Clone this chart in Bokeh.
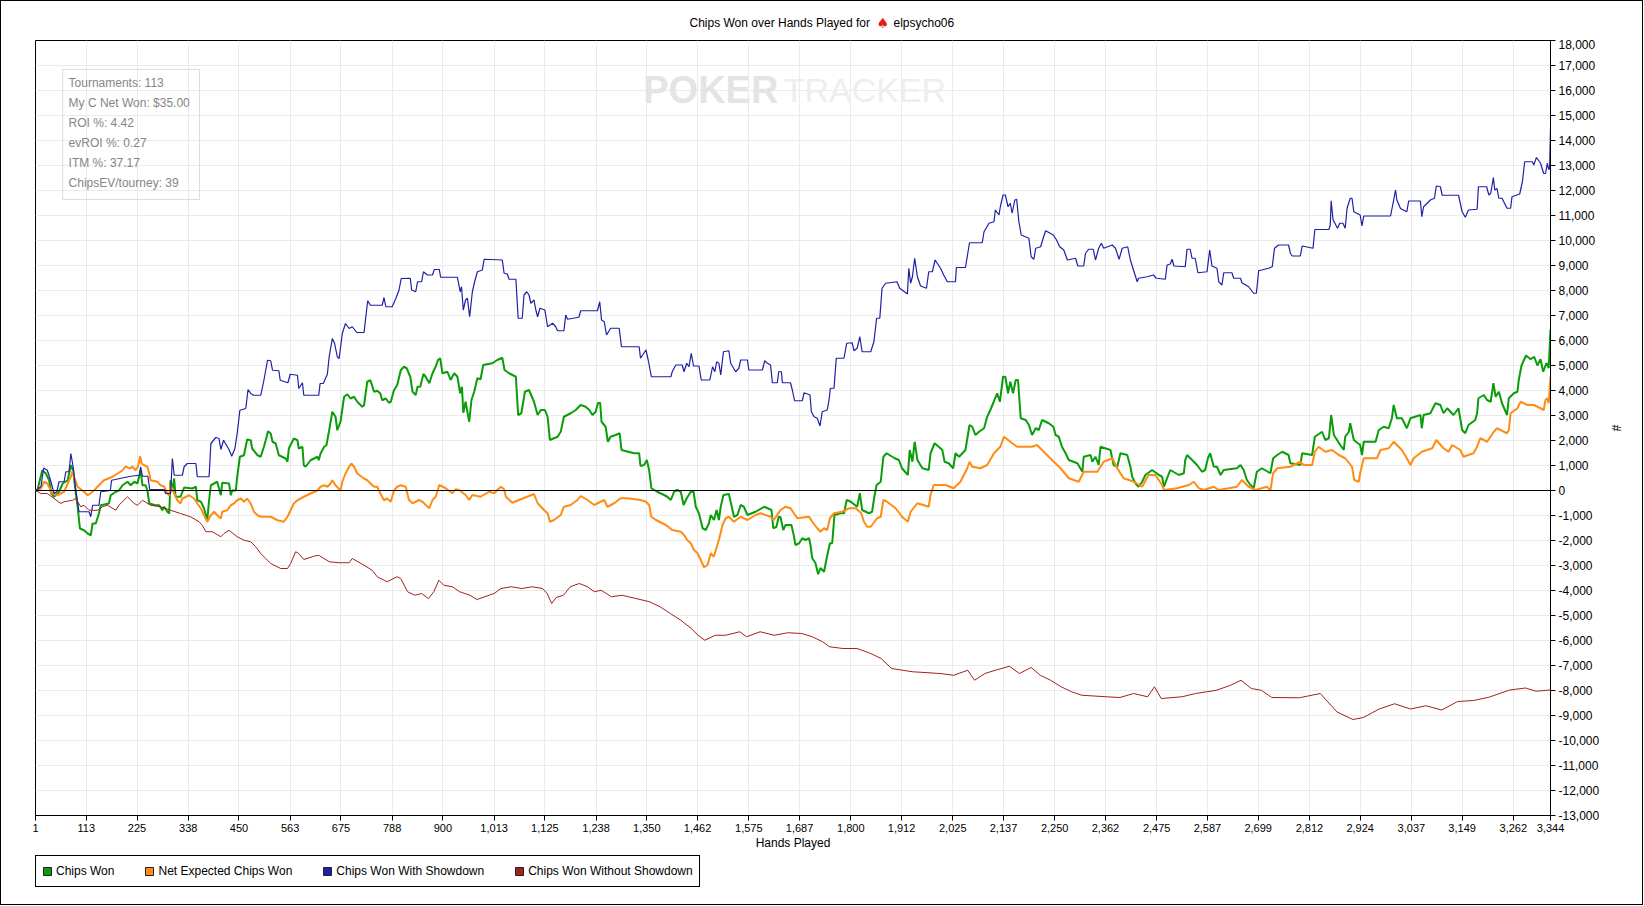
import glob
from bokeh.plotting import figure
from bokeh.layouts import column
from bokeh.models import (Range1d, FixedTicker, NumeralTickFormatter, Span, Label,
                          BoxAnnotation, Legend, LegendItem, ColumnDataSource, CDSView,
                          IndexFilter)
from bokeh.embed import file_html
from bokeh.resources import INLINE

# ---------------- data ----------------
x_ticks = [1, 113, 225, 338, 450, 563, 675, 788, 900, 1013, 1125, 1238, 1350, 1462, 1575,
           1687, 1800, 1912, 2025, 2137, 2250, 2362, 2475, 2587, 2699, 2812, 2924, 3037,
           3149, 3262, 3344]
y_ticks = list(range(-13000, 18001, 1000))

series_names = ["Chips Won", "Net Expected Chips Won", "Chips Won With Showdown",
                "Chips Won Without Showdown"]
series_colors = ["#0a9d0a", "#ff8c14", "#1f1fa8", "#a3201e"]

title_text = "Chips Won over Hands Played for"
player_name = "elpsycho06"
stats_lines = ["Tournaments: 113", "My C Net Won: $35.00", "ROI %: 4.42", "evROI %: 0.27",
               "ITM %: 37.17", "ChipsEV/tourney: 39"]

showdown_pts = [
    (1, 0), (13, 150), (19, 900), (27, 810), (33, 480), (42, -120), (48, -50), (53, 350), (64, 350),
    (68, 750), (75, 750), (79, 1480), (84, 950), (90, 0), (97, -850), (119, -850), (123, -1050),
    (127, -590), (141, -590), (145, -50), (166, 0), (169, 410), (211, 570), (230, 610), (233, 950),
    (237, 570), (249, 570), (253, 40), (285, 40), (288, -120), (299, -120), (303, 1280), (307, 610),
    (325, 610), (329, 950), (336, 1080), (355, 1080), (358, 550), (384, 550), (388, 1880), (399, 2120),
    (406, 2080), (410, 1640), (416, 2010), (428, 1640), (434, 1370), (441, 1680), (446, 2280),
    (452, 3210), (465, 3280), (470, 4040), (476, 3880), (482, 3810), (498, 3810), (505, 4410),
    (513, 5210), (520, 5190), (524, 4810), (538, 4790), (541, 4410), (558, 4310), (563, 4650),
    (579, 4610), (582, 4080), (590, 4310), (593, 3810), (626, 3810), (629, 4280), (636, 4280),
    (645, 4650), (649, 5350), (656, 6080), (661, 5880), (667, 5350), (671, 5280), (678, 6280),
    (685, 6680), (693, 6480), (700, 6550), (710, 6320), (726, 6320), (729, 6810), (734, 7590),
    (740, 7410), (766, 7410), (770, 7720), (774, 7350), (788, 7350), (796, 7680), (803, 8010),
    (808, 8480), (828, 8490), (831, 8020), (840, 7950), (844, 8350), (853, 8350), (857, 8750),
    (866, 8620), (877, 8620), (881, 8840), (892, 8840), (895, 8530), (932, 8530), (938, 7950),
    (941, 8150), (945, 7220), (950, 7620), (954, 7690), (959, 6950), (965, 7950), (970, 8350),
    (976, 8750), (987, 8820), (991, 9250), (1031, 9220), (1035, 8690), (1042, 8660), (1046, 8450),
    (1061, 8450), (1066, 6890), (1075, 6890), (1079, 7820), (1085, 7950), (1090, 7820), (1094, 7490),
    (1101, 7620), (1105, 7220), (1109, 6950), (1114, 7290), (1125, 7220), (1131, 6550), (1142, 6690),
    (1149, 6550), (1153, 6390), (1167, 6390), (1171, 7020), (1175, 6850), (1200, 6930), (1204, 7190),
    (1241, 7190), (1246, 7550), (1250, 6820), (1256, 6750), (1261, 6220), (1270, 6490), (1289, 6490),
    (1294, 5750), (1333, 5750), (1336, 5290), (1348, 5620), (1353, 5220), (1360, 4550), (1403, 4550),
    (1406, 4750), (1414, 5020), (1428, 5020), (1432, 4750), (1438, 5090), (1443, 4950), (1448, 5490),
    (1453, 4980), (1465, 4980), (1470, 4420), (1489, 4420), (1495, 4950), (1500, 4750), (1504, 5150),
    (1509, 5090), (1513, 4620), (1519, 5550), (1531, 5590), (1535, 5090), (1546, 4750), (1553, 4890),
    (1557, 5220), (1572, 5220), (1575, 4820), (1605, 4820), (1610, 5190), (1616, 5090), (1623, 5020),
    (1627, 4310), (1638, 4310), (1641, 4750), (1647, 4750), (1649, 4310), (1667, 4310), (1671, 4020),
    (1676, 3590), (1693, 3590), (1697, 3910), (1710, 3820), (1713, 3150), (1719, 2950), (1726, 2890),
    (1732, 2580), (1737, 3150), (1748, 3220), (1752, 3620), (1755, 4090), (1763, 4090), (1768, 5290),
    (1785, 5290), (1791, 5890), (1803, 5910), (1807, 5590), (1814, 5690), (1820, 6150), (1825, 5550),
    (1844, 5550), (1851, 5950), (1857, 6890), (1864, 6890), (1869, 8090), (1877, 8290), (1902, 8350),
    (1908, 8090), (1925, 7860), (1928, 8890), (1932, 8290), (1936, 8550), (1941, 9290), (1947, 8550),
    (1954, 8180), (1967, 8090), (1972, 8750), (1980, 8750), (1986, 9220), (1998, 8890), (2005, 8620),
    (2013, 8350), (2031, 8350), (2033, 8920), (2053, 8920), (2062, 9910), (2090, 9910), (2094, 10350),
    (2105, 10690), (2116, 10750), (2119, 11220), (2127, 11020), (2130, 11350), (2136, 11820),
    (2141, 11820), (2147, 11350), (2152, 11490), (2156, 11090), (2162, 11620), (2166, 11650),
    (2171, 10750), (2176, 10220), (2193, 10090), (2198, 9350), (2204, 9250), (2208, 9690), (2219, 9750),
    (2225, 10120), (2230, 10390), (2247, 10220), (2254, 10020), (2261, 9750), (2270, 9620), (2278, 9220),
    (2296, 9290), (2301, 8980), (2314, 8980), (2318, 9490), (2325, 9650), (2335, 9650), (2340, 9220),
    (2347, 9690), (2353, 9890), (2358, 9690), (2377, 9820), (2384, 9690), (2392, 9250), (2399, 9690),
    (2411, 9750), (2417, 9220), (2425, 8750), (2432, 8350), (2435, 8490), (2454, 8550), (2468, 8620),
    (2474, 8490), (2494, 8450), (2498, 9020), (2505, 9060), (2509, 9250), (2513, 8980), (2538, 8950),
    (2542, 9650), (2549, 9650), (2553, 9290), (2560, 9290), (2566, 8710), (2586, 8750), (2592, 9620),
    (2597, 8980), (2608, 8890), (2612, 8350), (2619, 8220), (2623, 8710), (2641, 8710), (2645, 8490),
    (2660, 8490), (2663, 8310), (2678, 8150), (2689, 7890), (2695, 7890), (2700, 8790), (2722, 8890),
    (2730, 8950), (2735, 9690), (2744, 9820), (2766, 9820), (2770, 9490), (2774, 9380), (2792, 9380),
    (2796, 9780), (2820, 9690), (2824, 10440), (2855, 10440), (2858, 10620), (2860, 11590),
    (2864, 10840), (2874, 10490), (2879, 10690), (2886, 10690), (2891, 10490), (2895, 11280),
    (2902, 11690), (2906, 11690), (2910, 11150), (2924, 11020), (2928, 10580), (2932, 10980),
    (2991, 10980), (2998, 11620), (3002, 12020), (3005, 11620), (3013, 11280), (3027, 11150),
    (3031, 11580), (3057, 11580), (3060, 10950), (3064, 11350), (3079, 11620), (3088, 11690),
    (3092, 12180), (3101, 12150), (3105, 11810), (3141, 11810), (3149, 11150), (3156, 10930),
    (3163, 11220), (3182, 11250), (3185, 12150), (3203, 12150), (3208, 11820), (3212, 11880),
    (3218, 12520), (3221, 12020), (3226, 12080), (3230, 11690), (3237, 11690), (3248, 11290),
    (3256, 11290), (3259, 11750), (3276, 11860), (3282, 12350), (3287, 13150), (3304, 13150),
    (3307, 13020), (3313, 13320), (3322, 13090), (3329, 12680), (3333, 12680), (3337, 13090),
    (3340, 12850), (3342, 12850), (3344, 14480),
]

won_pts = [
    (1, 0), (5, 0), (16, 810), (24, 680), (31, 410), (36, -120), (42, -250), (53, -50), (61, 280),
    (72, 410), (79, 1010), (84, 810), (90, -120), (94, -650), (99, -1520), (108, -1590), (116, -1720),
    (123, -1790), (127, -1320), (134, -1320), (141, -920), (145, -590), (163, -520), (167, -190),
    (178, -50), (185, 0), (193, 210), (204, 350), (211, 210), (219, 350), (226, 280), (233, 810),
    (237, 210), (244, 210), (248, 0), (252, -520), (266, -590), (274, -590), (281, -790), (285, -650),
    (292, -850), (296, -920), (299, 410), (303, 0), (307, 480), (310, -250), (321, -250), (329, 120),
    (347, 80), (355, 150), (358, -390), (366, -450), (373, -720), (380, -1190), (384, -390), (388, 210),
    (402, 350), (410, -190), (413, 310), (428, 280), (432, -190), (435, 0), (443, 0), (446, 550),
    (452, 1350), (461, 1410), (468, 2040), (476, 2010), (479, 1680), (491, 1410), (498, 1350),
    (505, 1750), (509, 2010), (514, 2370), (520, 2280), (524, 1950), (531, 1880), (538, 1410),
    (553, 1280), (557, 1150), (560, 1680), (571, 2080), (579, 2010), (582, 1680), (590, 1750),
    (593, 1010), (597, 950), (608, 1210), (623, 1350), (626, 1210), (630, 1480), (638, 1750),
    (643, 1810), (649, 2410), (656, 3150), (663, 2950), (667, 2410), (674, 2750), (682, 3750),
    (689, 3850), (696, 3680), (704, 3750), (711, 3550), (722, 3350), (726, 3410), (733, 4350),
    (740, 4410), (748, 3950), (755, 3990), (762, 3880), (766, 3610), (774, 3680), (781, 3510),
    (785, 3550), (792, 4010), (799, 4210), (807, 4810), (814, 4950), (820, 4890), (828, 4550),
    (833, 3950), (840, 3820), (844, 4150), (850, 4150), (857, 4660), (862, 4550), (870, 4290),
    (877, 4690), (884, 4950), (889, 5220), (894, 5290), (899, 4690), (910, 4750), (917, 4420),
    (925, 4690), (932, 4550), (938, 3890), (942, 4150), (945, 3110), (950, 3550), (958, 2750),
    (963, 3620), (969, 3950), (976, 4490), (983, 4450), (989, 5020), (1009, 5090), (1020, 5220),
    (1031, 5310), (1036, 4820), (1046, 4690), (1061, 4550), (1066, 3020), (1073, 3090), (1081, 3950),
    (1090, 4020), (1101, 3550), (1109, 3020), (1116, 3220), (1125, 3220), (1131, 2950), (1136, 2020),
    (1153, 2150), (1160, 2350), (1167, 2950), (1182, 3090), (1193, 3220), (1204, 3420), (1215, 3350),
    (1223, 3220), (1230, 3020), (1237, 3150), (1242, 3490), (1247, 3510), (1250, 2750), (1259, 2550),
    (1264, 1950), (1270, 2150), (1281, 2220), (1290, 2290), (1294, 1620), (1322, 1490), (1333, 1490),
    (1336, 980), (1344, 1020), (1350, 1220), (1355, 820), (1360, 90), (1373, -50), (1388, -180),
    (1395, -250), (1403, -380), (1410, -50), (1417, 20), (1425, -50), (1431, -580), (1438, -310),
    (1447, -50), (1453, -50), (1458, -650), (1465, -920), (1473, -1510), (1480, -1580), (1487, -1310),
    (1491, -980), (1498, -1180), (1504, -780), (1509, -1180), (1513, -650), (1519, -180), (1531, -140),
    (1539, -780), (1542, -1050), (1550, -980), (1557, -580), (1564, -650), (1572, -980), (1590, -850),
    (1609, -650), (1625, -780), (1629, -1510), (1636, -1450), (1641, -1050), (1645, -1070),
    (1651, -1580), (1656, -1380), (1669, -1380), (1674, -1780), (1678, -2180), (1686, -2110),
    (1693, -1910), (1700, -1980), (1708, -1910), (1711, -2180), (1715, -2710), (1722, -2900),
    (1728, -3350), (1733, -3100), (1741, -3250), (1748, -2600), (1754, -2110), (1759, -2110),
    (1764, -980),
    (1777, -910), (1785, -910), (1791, -380), (1800, -450), (1814, -650), (1820, -110), (1825, -780),
    (1840, -910), (1847, -850), (1852, -250), (1857, 220), (1866, 350), (1872, 1350), (1879, 1490),
    (1897, 1290), (1906, 1220), (1913, 890), (1926, 620), (1930, 1620), (1936, 1150), (1941, 1950),
    (1947, 1220), (1958, 890), (1972, 820), (1976, 1490), (1985, 1890), (1994, 1750), (2002, 1620),
    (2007, 1150), (2016, 1090), (2026, 890), (2031, 1490), (2039, 1350), (2053, 1620), (2062, 2620),
    (2068, 2550), (2075, 2220), (2083, 2350), (2094, 2490), (2101, 2950), (2108, 3220), (2117, 3620),
    (2123, 3890), (2129, 3550), (2136, 4550), (2141, 4550), (2147, 3890), (2152, 4350), (2158, 3890),
    (2164, 4420), (2169, 4420), (2175, 2890), (2186, 2820), (2193, 2620), (2200, 2220), (2208, 2490),
    (2215, 2420), (2222, 2820), (2237, 2690), (2247, 2550), (2252, 2220), (2259, 2150), (2266, 1750),
    (2274, 1490), (2281, 1220), (2300, 1090), (2311, 750), (2314, 1350), (2329, 1420), (2333, 1150),
    (2340, 1350), (2347, 1020), (2351, 1750), (2373, 1620), (2380, 1020), (2388, 950), (2395, 1490),
    (2410, 1420), (2417, 950), (2421, 550), (2428, 290), (2435, 150), (2443, 350), (2450, 620),
    (2465, 820), (2480, 620), (2487, 550), (2491, 150), (2498, 490), (2505, 820), (2524, 620),
    (2535, 690), (2538, 1220), (2542, 1420), (2557, 1150), (2564, 1020), (2575, 750), (2582, 820),
    (2588, 1290), (2593, 1490), (2601, 950), (2608, 950), (2616, 620), (2623, 820), (2652, 890),
    (2660, 1020), (2667, 820), (2674, 420), (2682, 220), (2689, 90), (2696, 750), (2707, 890),
    (2726, 690), (2732, 1290), (2741, 1420), (2752, 1550), (2766, 1420), (2770, 1090), (2792, 1020),
    (2796, 1490), (2818, 1420), (2824, 2150), (2840, 2350), (2847, 2020), (2855, 2090), (2860, 3020),
    (2866, 2220), (2880, 1820), (2888, 1620), (2891, 2150), (2899, 2350), (2902, 2690), (2910, 2020),
    (2924, 1820), (2928, 1420), (2932, 1950), (2958, 1950), (2965, 2420), (2976, 2550), (2987, 2490),
    (2994, 2890), (2998, 3420), (3005, 2890), (3016, 2890), (3027, 2490), (3035, 2890), (3057, 3020),
    (3060, 2490), (3064, 3020), (3079, 3090), (3090, 3490), (3101, 3420), (3108, 3090), (3116, 3290),
    (3130, 3020), (3141, 3290), (3149, 2420), (3156, 2290), (3163, 2620), (3178, 2820), (3182, 3090),
    (3185, 3690), (3197, 3820), (3204, 3620), (3212, 3550), (3218, 4290), (3223, 3750), (3230, 3950),
    (3237, 3490), (3245, 3150), (3248, 3020), (3252, 3690), (3263, 3890), (3271, 3950), (3274, 4420),
    (3280, 5000), (3290, 5400), (3300, 5250), (3308, 5350), (3315, 5000), (3322, 5250), (3328, 4750),
    (3335, 5100), (3340, 4900), (3344, 6450),
]

expected_pts = [
    (1, 0), (13, 80), (20, 350), (27, 280), (35, 0), (38, -120), (49, -190), (64, -50), (72, 280),
    (79, 550), (83, 790), (86, 550), (94, 150), (108, -50), (116, -190), (122, -120), (130, 0),
    (138, 150), (145, 280), (152, 410), (171, 550), (185, 710), (193, 810), (200, 970), (208, 880),
    (215, 950), (222, 810), (227, 950), (232, 1370), (235, 1080), (241, 1010), (248, 950), (252, 680),
    (255, 410), (270, 350), (277, 210), (285, 150), (292, -120), (296, -190), (299, 210), (307, -120),
    (314, -390), (321, -520), (325, -320), (340, -190), (351, -320), (358, -520), (366, -720),
    (373, -990), (380, -1250), (388, -990), (395, -850), (402, -990), (410, -1120), (413, -850),
    (424, -790), (432, -590), (439, -520), (446, -390), (454, -320), (461, -450), (468, -320),
    (476, -520), (483, -850), (491, -990), (498, -1050), (520, -1050), (535, -1190), (549, -1250),
    (557, -1050), (564, -790), (571, -520), (579, -390), (593, -250), (608, -120), (623, 0), (630, 150),
    (638, 210), (645, 150), (652, 280), (656, 410), (663, 210), (674, 0), (678, 350), (685, 680),
    (693, 950), (698, 1080), (704, 950), (711, 680), (726, 480), (733, 410), (748, 150), (755, 150),
    (762, -120), (770, -390), (777, -320), (785, -450), (792, 0), (799, 150), (807, 210), (818, 150),
    (825, -380), (833, -510), (840, -450), (847, -380), (855, -450), (862, -580), (870, -710),
    (877, -380), (884, -250), (892, 220), (906, 90), (921, -110), (928, 50), (936, 20), (950, -180),
    (958, -380), (965, -180), (983, -250), (1002, -50), (1013, -110), (1020, 20), (1028, 150),
    (1035, 50), (1039, -250), (1053, -490), (1068, -380), (1083, -270), (1101, -140), (1109, -510),
    (1123, -780), (1131, -910), (1136, -1250), (1145, -1180), (1160, -980), (1167, -650), (1182, -580),
    (1197, -380), (1204, -220), (1219, -380), (1234, -580), (1248, -450), (1256, -380), (1263, -650),
    (1278, -510), (1292, -310), (1307, -310), (1336, -380), (1348, -450), (1355, -580), (1360, -1050),
    (1370, -1180), (1392, -1380), (1406, -1580), (1425, -1650), (1432, -1780), (1439, -1980),
    (1447, -2110), (1454, -2380), (1462, -2510), (1469, -2780), (1476, -3070), (1484, -2980),
    (1491, -2510), (1498, -2650), (1502, -2380), (1509, -1980), (1517, -1380), (1524, -1110),
    (1531, -1050), (1542, -1250), (1557, -1050), (1572, -1180), (1590, -980), (1601, -910),
    (1623, -1050), (1630, -1180), (1645, -780), (1656, -650), (1667, -710), (1682, -1110),
    (1708, -1050), (1715, -1250), (1726, -1510), (1733, -1650), (1741, -1510), (1748, -1580),
    (1754, -1110), (1763, -910), (1781, -850), (1796, -710), (1811, -710), (1823, -910), (1829, -1250),
    (1836, -1450), (1844, -1450), (1858, -1110), (1866, -1050), (1872, -380), (1880, -450),
    (1899, -710), (1913, -1050), (1926, -1250), (1932, -850), (1947, -510), (1972, -650), (1976, -180),
    (1983, 220), (2009, 220), (2027, 90), (2042, 350), (2057, 890), (2062, 1150), (2068, 950),
    (2086, 890), (2101, 1020), (2116, 1490), (2130, 1750), (2138, 2150), (2152, 1950), (2167, 1750),
    (2200, 1750), (2211, 1820), (2222, 1620), (2244, 1220), (2263, 890), (2281, 490), (2303, 350),
    (2314, 750), (2344, 750), (2358, 1150), (2377, 1290), (2388, 890), (2402, 490), (2425, 350),
    (2443, 150), (2457, 620), (2472, 620), (2487, 220), (2491, 20), (2520, 90), (2546, 220),
    (2557, 350), (2568, 90), (2579, 20), (2601, 150), (2612, 20), (2652, 150), (2663, 420), (2678, 150),
    (2693, 20), (2718, 150), (2726, 20), (2732, 690), (2741, 890), (2770, 950), (2792, 1150),
    (2799, 1020), (2818, 1020), (2824, 1550), (2832, 1750), (2847, 1550), (2862, 1620), (2877, 1420),
    (2891, 1290), (2906, 950), (2911, 420), (2921, 350), (2924, 690), (2932, 1290), (2961, 1290),
    (2969, 1620), (2987, 1690), (2998, 1950), (3016, 1620), (3027, 1290), (3035, 1020), (3042, 1290),
    (3060, 1550), (3083, 1690), (3092, 2020), (3108, 1690), (3119, 1550), (3127, 1820), (3145, 1620),
    (3152, 1350), (3174, 1490), (3182, 1750), (3189, 2090), (3197, 2020), (3204, 1950), (3219, 2350),
    (3226, 2490), (3248, 2290), (3252, 2420), (3256, 3090), (3271, 3290), (3278, 3550), (3293, 3420),
    (3307, 3420), (3322, 3290), (3329, 3220), (3333, 3620), (3337, 3690), (3340, 3490), (3344, 4550),
]

no_showdown_pts = [
    (1, 0), (13, -120), (27, -120), (42, -320), (57, -520), (64, -450), (83, -390), (90, -320),
    (101, -650), (108, -590), (119, -790), (138, -790), (149, -650), (160, -590), (178, -790),
    (185, -590), (204, -250), (219, -520), (226, -590), (237, -390), (255, -590), (277, -650),
    (299, -790), (321, -920), (343, -1050), (362, -1250), (369, -1390), (377, -1650), (391, -1650),
    (410, -1850), (417, -1720), (428, -1590), (446, -1850), (461, -1990), (476, -2050), (487, -2250),
    (498, -2520), (509, -2720), (520, -2920), (542, -3120), (557, -3120), (564, -2920), (575, -2450),
    (582, -2520), (593, -2760), (615, -2630), (626, -2590), (649, -2850), (671, -2890), (693, -2890),
    (700, -2720), (726, -2990), (744, -3190), (755, -3450), (777, -3650), (799, -3450), (807, -3520),
    (822, -4050), (838, -4190), (853, -4120), (868, -4320), (880, -4050), (891, -3590), (902, -3790),
    (921, -3850), (937, -4050), (960, -4190), (975, -4360), (1013, -4120), (1028, -3920),
    (1051, -3850), (1074, -3920), (1097, -3850), (1120, -3920), (1130, -4120), (1140, -4520),
    (1150, -4280), (1166, -4190), (1181, -3850), (1201, -3720), (1219, -3850), (1234, -4050),
    (1249, -3990), (1272, -4250), (1295, -4190), (1326, -4320), (1356, -4450), (1379, -4650),
    (1402, -4920), (1425, -5190), (1448, -5520), (1463, -5790), (1478, -5990), (1501, -5790),
    (1524, -5790), (1555, -5650), (1570, -5850), (1600, -5650), (1631, -5790), (1661, -5690),
    (1692, -5720), (1715, -5850), (1738, -6050), (1753, -6250), (1783, -6320), (1814, -6320),
    (1844, -6520), (1867, -6720), (1890, -7120), (1936, -7250), (1997, -7320), (2027, -7390),
    (2058, -7190), (2073, -7590), (2096, -7320), (2119, -7190), (2150, -7030), (2172, -7320),
    (2198, -7080), (2218, -7390), (2241, -7590), (2264, -7850), (2287, -8050), (2310, -8190),
    (2363, -8250), (2394, -8280), (2424, -8120), (2455, -8250), (2470, -7850), (2485, -8320),
    (2531, -8250), (2561, -8120), (2607, -7990), (2638, -7790), (2661, -7590), (2684, -7920),
    (2706, -7990), (2729, -8280), (2790, -8290), (2836, -8120), (2873, -8860), (2908, -9160),
    (2931, -9080), (2966, -8740), (3000, -8530), (3035, -8740), (3069, -8610), (3104, -8780),
    (3139, -8440), (3174, -8400), (3208, -8270), (3254, -7980), (3289, -7900), (3312, -8030),
    (3344, -7980),
]

series_pts = [won_pts, expected_pts, showdown_pts, no_showdown_pts]
series_widths = [2, 2, 1.2, 1]

# ---------------- fonts ----------------
has_narrow = bool(glob.glob("/usr/share/fonts/**/LiberationSansNarrow-Regular.ttf", recursive=True))
BASE = "Liberation Sans"
if has_narrow:
    NARROW, XTICK_SIZE, LEG_SIZE = "Liberation Sans Narrow", "14px", "15px"
    WM_FONT, WM_SIZE1, WM_SIZE2 = "Liberation Sans Narrow", "45px", "42px"
else:
    NARROW, XTICK_SIZE, LEG_SIZE = "Liberation Sans", "11px", "12px"
    WM_FONT, WM_SIZE1, WM_SIZE2 = "Liberation Sans", "38px", "34px"

CANVAS_W = 1641


def strip(height):
    """A bare canvas row (no axes / grid) used for the title line and the legend box."""
    s = figure(width=CANVAS_W, height=height, x_range=Range1d(0, 1), y_range=Range1d(0, 1),
               toolbar_location=None, output_backend="svg", min_border=0, title=None,
               x_axis_location=None, y_axis_location=None,
               background_fill_color="white", border_fill_color="white")
    s.outline_line_color = None
    s.grid.visible = False
    return s


# ---------------- title strip ----------------
p0 = strip(38)
for txt, sx, font, size, colr in [(title_text, 654, BASE, "12px", "black"),
                                  ("\u2660", 841, "DejaVu Sans", "14px", "#e0201c"),
                                  (player_name, 858, BASE, "12px", "black")]:
    p0.add_layout(Label(x=sx, y=17, x_units="screen", y_units="screen", text=txt,
                        text_font=font, text_font_size=size, text_color=colr,
                        text_baseline="alphabetic", text_align="left"))

# ---------------- main chart ----------------
p = figure(frame_width=1515, frame_height=775, title=None,
           x_range=Range1d(1, 3344), y_range=Range1d(-13000, 18000),
           y_axis_location="right", toolbar_location=None, output_backend="svg",
           min_border_left=34, min_border_right=92, min_border_top=1, min_border_bottom=38,
           background_fill_color="white", border_fill_color="white")
p.outline_line_color = "black"
p.outline_line_alpha = 1.0

xt = FixedTicker(ticks=x_ticks)
yt = FixedTicker(ticks=y_ticks)
p.xaxis.ticker = xt
p.yaxis.ticker = yt
p.xgrid.ticker = xt
p.ygrid.ticker = yt
for g in (p.xgrid, p.ygrid):
    g.grid_line_color = "#ebebeb"
    g.grid_line_width = 1

fmt = NumeralTickFormatter(format="0,0")
p.xaxis.formatter = fmt
p.yaxis.formatter = fmt

for ax in (p.xaxis, p.yaxis):
    ax.axis_line_color = "black"
    ax.major_tick_line_color = "black"
    ax.major_tick_out = 5
    ax.major_tick_in = 0
    ax.minor_tick_out = 0
    ax.minor_tick_in = 0
    ax.major_label_text_color = "black"
    ax.axis_label_text_font = BASE
    ax.axis_label_text_font_size = "12px"
    ax.axis_label_text_font_style = "normal"
    ax.axis_label_text_color = "black"

p.xaxis.axis_label = "Hands Played"
p.xaxis.major_label_text_font = NARROW
p.xaxis.major_label_text_font_size = XTICK_SIZE
p.xaxis.major_label_standoff = 3
p.xaxis.axis_label_standoff = 1

p.yaxis.axis_label = "#"
p.yaxis.major_label_text_font = BASE
p.yaxis.major_label_text_font_size = "12px"
p.yaxis.major_label_standoff = 3
p.yaxis.axis_label_standoff = 7

# zero line
p.add_layout(Span(location=0, dimension="width", line_color="black", line_width=1))

# ---------------- legend strip ----------------
p2 = strip(51)

items = []
for name, col, pts, lw in zip(series_names, series_colors, series_pts, series_widths):
    hands = [h for h, v in pts]
    chips = [v for h, v in pts]
    src = ColumnDataSource(data=dict(hand=hands, chips=chips))
    p.line("hand", "chips", source=src, line_color=col, line_width=lw)
    # swatch glyph for the legend: the last data point, which lies outside the strip's range
    sw = p2.quad(left="hand", right="hand", top="chips", bottom="chips", source=src,
                 view=CDSView(filter=IndexFilter(indices=[len(hands) - 1])),
                 fill_color=col, line_color="#222222", line_width=1)
    items.append(LegendItem(label=name, renderers=[sw]))

legend = Legend(items=items, orientation="horizontal", location=(0, 17),
                margin=0, padding=6, spacing=30, label_standoff=4,
                glyph_width=10, glyph_height=10, label_height=18,
                label_text_font=NARROW, label_text_font_size=LEG_SIZE,
                label_text_color="black",
                border_line_color="black", border_line_width=1, border_line_alpha=1,
                background_fill_color="white", background_fill_alpha=1)
p2.add_layout(legend)

# ---------------- annotations inside the chart ----------------
p.add_layout(Label(x=1342, y=16020, text="POKER", text_font=WM_FONT, text_font_size=WM_SIZE1,
                   text_font_style="bold", text_color="#e4e4e4", text_baseline="middle",
                   text_align="left"))
p.add_layout(Label(x=1652, y=16020, text="TRACKER", text_font=WM_FONT, text_font_size=WM_SIZE2,
                   text_color="#eeeeee", text_baseline="middle", text_align="left"))

p.add_layout(BoxAnnotation(left=61, right=363, top=16840, bottom=11640,
                           fill_alpha=0, line_color="#8a8a8a", line_width=1))
stat_y = [16320, 15520, 14720, 13920, 13120, 12320]
for txt, yy in zip(stats_lines, stat_y):
    p.add_layout(Label(x=74, y=yy, text=txt, text_font=BASE, text_font_size="12px",
                       text_color="#858585", text_baseline="middle", text_align="left"))

layout = column(p0, p, p2, spacing=0, styles={"border": "1px solid black"})
open("out.html", "w").write(file_html(layout, INLINE))
